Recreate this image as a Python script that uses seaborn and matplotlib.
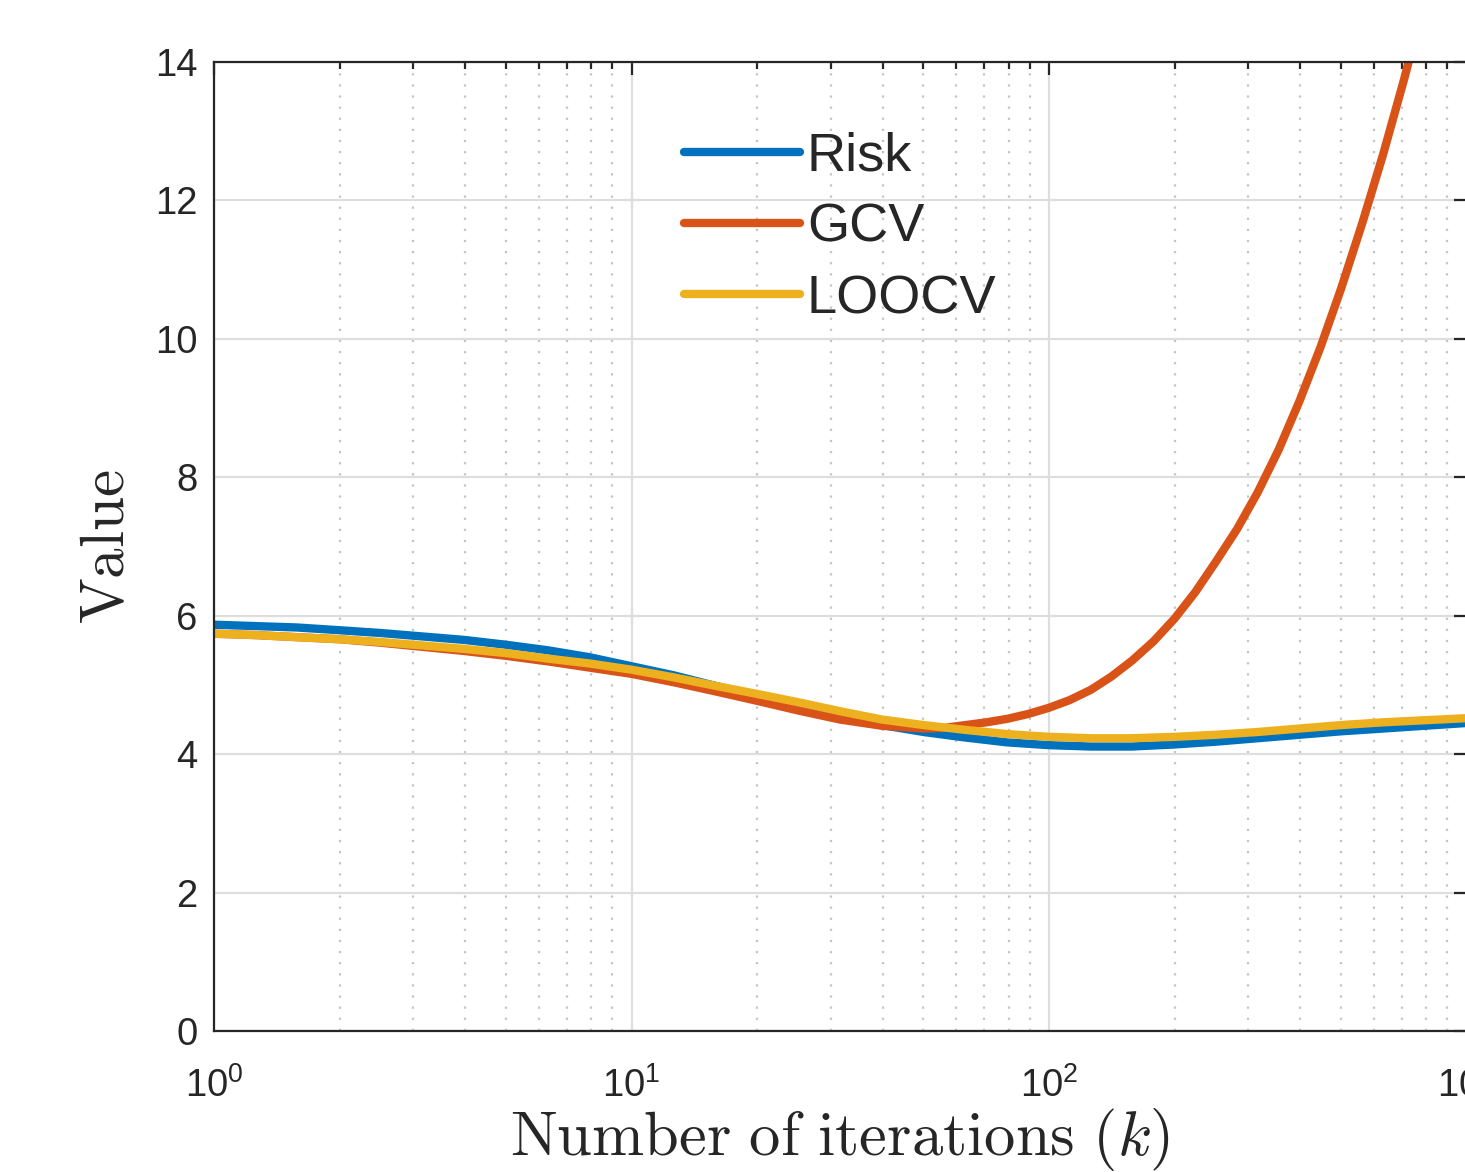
import pandas as pd
import matplotlib
matplotlib.use('Agg')
import matplotlib.pyplot as plt
import seaborn as sns
from matplotlib.ticker import LogLocator, NullFormatter

# iteration grid (about 0.1 decade apart) shared by Risk and LOOCV
iterations = [1, 1.26, 1.58, 2, 2.51, 3.16, 3.98, 5.01, 6.31, 7.94, 10, 12.6, 15.8,
              20, 25.1, 31.6, 39.8, 50.1, 63.1, 79.4, 100, 126, 158, 200, 251, 316,
              398, 501, 631, 794, 1000]
risk = [5.87, 5.85, 5.83, 5.79, 5.75, 5.70, 5.65, 5.58, 5.50, 5.40, 5.27, 5.14, 4.99,
        4.84, 4.69, 4.55, 4.42, 4.32, 4.24, 4.17, 4.13, 4.11, 4.11, 4.14, 4.18, 4.23,
        4.28, 4.33, 4.37, 4.41, 4.45]
loocv = [5.74, 5.72, 5.69, 5.66, 5.62, 5.57, 5.52, 5.46, 5.38, 5.31, 5.22, 5.11, 4.99,
         4.87, 4.75, 4.62, 4.50, 4.42, 4.35, 4.29, 4.25, 4.23, 4.23, 4.25, 4.28, 4.32,
         4.37, 4.42, 4.46, 4.49, 4.52]

# GCV turns up steeply, so it is read on a finer grid past ~50 iterations
gcv_iterations = [1, 1.26, 1.58, 2, 2.51, 3.16, 3.98, 5.01, 6.31, 7.94, 10, 12.6, 15.8,
                  20, 25.1, 31.6, 39.8, 50.1, 56.2, 63.1, 70.8, 79.4, 89.1, 100, 112,
                  126, 141, 158, 178, 200, 224, 251, 282, 316, 355, 398, 447, 501, 562,
                  631, 708, 794, 891]
gcv = [5.74, 5.72, 5.69, 5.66, 5.61, 5.55, 5.49, 5.42, 5.34, 5.25, 5.16, 5.04, 4.91,
       4.77, 4.63, 4.50, 4.41, 4.37, 4.38, 4.42, 4.46, 4.51, 4.58, 4.67, 4.78, 4.93,
       5.12, 5.35, 5.63, 5.96, 6.34, 6.78, 7.25, 7.78, 8.40, 9.10, 9.88, 10.73, 11.66,
       12.66, 13.74, 14.89, 16.10]

series_names = ['Risk', 'GCV', 'LOOCV']
series_colors = ['#0072BD', '#D95319', '#EDB120']

df = pd.concat([
    pd.DataFrame({'k': iterations, 'value': risk, 'series': 'Risk'}),
    pd.DataFrame({'k': gcv_iterations, 'value': gcv, 'series': 'GCV'}),
    pd.DataFrame({'k': iterations, 'value': loocv, 'series': 'LOOCV'}),
])

sns.set_style('white')
plt.rcParams['font.family'] = ['Liberation Sans', 'DejaVu Sans']
plt.rcParams['axes.edgecolor'] = '#262626'

fig = plt.figure(figsize=(14.65, 11.72), dpi=100)
ax = fig.add_axes([214 / 1465, 141 / 1172, 1252.5 / 1465, 969 / 1172])

sns.lineplot(data=df, x='k', y='value', hue='series', hue_order=series_names,
             palette=series_colors, linewidth=6, ax=ax, legend=False,
             estimator=None, sort=True)

ax.set_xscale('log')
ax.set_xlim(1, 1000)
ax.set_ylim(0, 14)
ax.set_yticks(range(0, 15, 2))
ax.xaxis.set_major_locator(LogLocator(base=10, numticks=10))
ax.xaxis.set_minor_locator(LogLocator(base=10, subs=range(2, 10), numticks=20))
ax.xaxis.set_minor_formatter(NullFormatter())

# MATLAB-ish grid: solid major, dotted minor on x
ax.grid(True, which='major', color='#dedede', linewidth=1.6, linestyle='-')
ax.grid(True, which='minor', axis='x', color='#c4c4c4', linewidth=1.6,
        linestyle=(0, (1, 4)))
ax.set_axisbelow(True)

for s in ax.spines.values():
    s.set_linewidth(1.6)
    s.set_color('#262626')

ax.tick_params(which='both', direction='in', top=True, right=True,
               color='#262626', width=1.6, labelcolor='#262626')
ax.tick_params(which='major', length=9.5, labelsize=27.5)
ax.tick_params(which='minor', length=5)
ax.tick_params(axis='x', which='major', pad=26)
ax.tick_params(axis='y', which='major', pad=12)

ax.set_xlabel(r'$\mathrm{Number\ of\ iterations}\ (k)$', fontsize=45,
              math_fontfamily='cm', labelpad=1, color='#262626')
ax.set_ylabel(r'$\mathrm{Value}$', fontsize=44, math_fontfamily='cm',
              labelpad=13, color='#262626')

handles = [plt.Line2D([], [], color=c, linewidth=6) for c in series_colors]
fig.legend(handles, series_names, loc='center left',
           bbox_to_anchor=(684 / 1465, 1 - 228 / 1172), frameon=False,
           fontsize=39, handlelength=2.15, handletextpad=0.12, labelspacing=0.39,
           borderpad=0, borderaxespad=0)

fig.savefig('out.png', dpi=100)
